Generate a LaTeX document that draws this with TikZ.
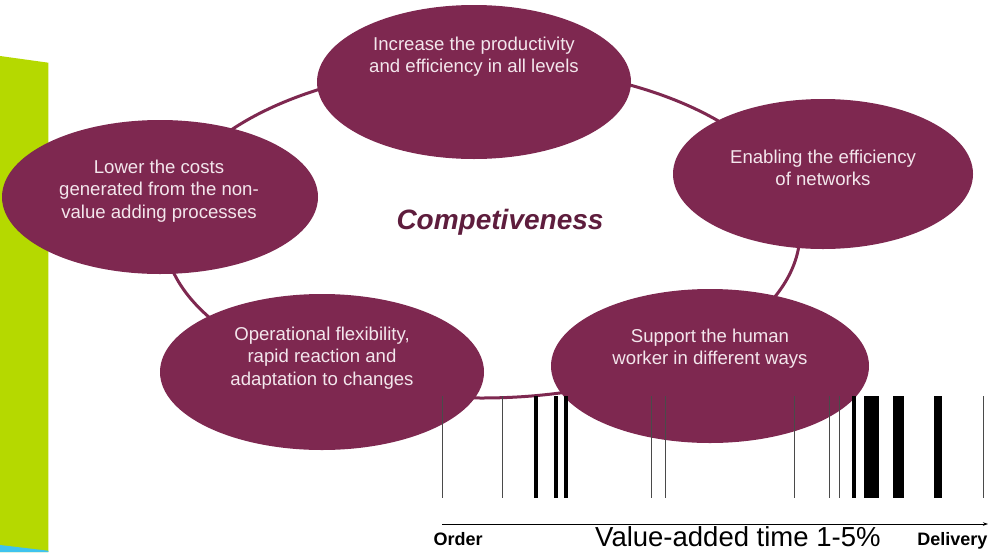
\documentclass[tikz,border=0pt]{standalone}
\usepackage{fontspec}
\setmainfont{Liberation Sans}
\usetikzlibrary{shapes.geometric,arrows.meta}
\definecolor{bubblefill}{HTML}{7E2850}
\definecolor{bubbletext}{HTML}{F3E6EC}
\definecolor{titlecol}{HTML}{5E1D3D}
\definecolor{greenbar}{HTML}{B5D900}
\definecolor{cyanbar}{HTML}{3FC3EE}
\definecolor{thinbarcol}{HTML}{4A4A4A}
\tikzset{
  bubble/.style={ellipse, fill=bubblefill, draw=none, inner sep=0pt},
  bubbletxt/.style={text=bubbletext, align=center, inner sep=0pt,
    font=\fontsize{18.6}{22.3}\selectfont},
  ringline/.style={draw=bubblefill, line width=3pt},
  thinbar/.style={draw=thinbarcol, line width=1pt},
  thickbar/.style={fill=black, draw=none},
  axislabel/.style={inner sep=0pt, font=\bfseries\fontsize{18}{20}\selectfont},
}
\begin{document}
\begin{tikzpicture}[x=1pt,y=-1pt]
\useasboundingbox (0,0) rectangle (990,552);
% left decorative bars
\fill[greenbar] (0,56) -- (48.3,62.7) -- (48.3,552) -- (0,552) -- cycle;
\fill[cyanbar] (0,545) -- (48.3,550.7) -- (48.3,552) -- (0,552) -- cycle;
% ring
\draw[ringline] (482,232) ellipse [x radius=318pt, y radius=166pt];
% bubbles
\node[bubble, minimum width=314pt, minimum height=154pt] (e1) at (474,82) {};
\node[bubble, minimum width=300pt, minimum height=150pt] (e2) at (823,174) {};
\node[bubble, minimum width=316pt, minimum height=154pt] (e3) at (160,197) {};
\node[bubble, minimum width=324pt, minimum height=156pt] (e4) at (322,372) {};
\node[bubble, minimum width=318pt, minimum height=154pt] (e5) at (710,366) {};
% bubble texts
\node[bubbletxt] (t1) at (474,57) {Increase the productivity\\and efficiency in all levels};
\node[bubbletxt] (t2) at (823,168) {Enabling the efficiency\\of networks};
\node[bubbletxt] (t3) at (159,191) {Lower the costs\\generated from the non-\\value adding processes};
\node[bubbletxt] (t4) at (322,358) {Operational flexibility,\\rapid reaction and\\adaptation to changes};
\node[bubbletxt] (t5) at (710,349) {Support the human\\worker in different ways};
% centre title
\node[text=titlecol, inner sep=0pt, font=\bfseries\itshape\fontsize{28}{32}\selectfont] (title) at (500,222) {Competiveness};
% barcode thin bars
\foreach \xx in {442.3,502.3,651,665.7,794.3,829.3,839.7,983}
  \draw[thinbar] (\xx,396) -- (\xx,497.5);
% barcode thick bars
\foreach \xa/\xb in {534.3/537.7,554/558,564.3/567.7,852/856,863.7/879.3,893.3/904,934/942}
  \fill[thickbar] (\xa,396) rectangle (\xb,497.5);
% time axis
\coordinate (axS) at (442,524);
\coordinate (axE) at (988,524);
\draw[line width=0.8pt, -{Stealth[length=5pt,width=3.5pt]}] (axS) -- (axE);
\node[axislabel, anchor=base west] (order) at (433.5,545.7) {Order};
\node[axislabel, anchor=base east] (delivery) at (987.5,545.7) {Delivery};
\node[inner sep=0pt, text depth=0pt, anchor=base west, font=\fontsize{27.5}{30}\selectfont] (vat) at (595,546.5) {Value-added time 1-5\%};
\end{tikzpicture}
\end{document}
